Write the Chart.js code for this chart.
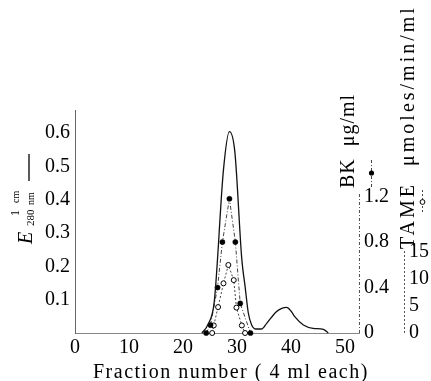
<!DOCTYPE html>
<html><head><meta charset="utf-8">
<script src="https://cdn.jsdelivr.net/npm/chart.js@4.4.0/dist/chart.umd.min.js"></script>
<style>html,body{margin:0;padding:0;background:#fff}#wrap{width:431px;height:381px;position:relative}</style>
</head><body><div id="wrap"><canvas id="c" width="431" height="381"></canvas></div>
<script>
// ---- data ----
const xTickLabels = [0, 10, 20, 30, 40, 50];
const eTicks = [0.1, 0.2, 0.3, 0.4, 0.5, 0.6];
const bkTicks = [0, 0.4, 0.8, 1.2];
const tameTicks = [0, 5, 10, 15];

const absFraction = [23.5, 24.6, 25.8, 27.5, 28.6, 29.6, 30.9, 31.5, 32.1, 32.7, 33.5, 34.5, 35.5, 37.3, 38.3, 39.2, 40.0, 40.7, 42.3, 44.1, 46.0, 46.9];
const absValues   = [0, 0.025, 0.095, 0.49, 0.604, 0.544, 0.22, 0.14, 0.06, 0.025, 0.012, 0.012, 0.029, 0.064, 0.074, 0.077, 0.066, 0.049, 0.024, 0.014, 0.011, 0];

const bkFraction = [24.3, 25.1, 26.4, 27.3, 28.6, 29.7, 30.6, 32.5];
const bkValues   = [0, 0.07, 0.40, 0.80, 1.18, 0.80, 0.26, 0];

const tameFraction = [25.4, 25.7, 26.5, 27.5, 28.4, 29.4, 29.9, 30.9, 31.5];
const tameValues   = [0, 1.4, 4.8, 9.2, 12.6, 9.8, 4.7, 1.4, 0];

const pts = (xs, ys) => xs.map((x, i) => ({x: x, y: ys[i]}));
const SERIF = "'Liberation Serif', 'DejaVu Serif', serif";
const tickFont = {family: SERIF, size: 20};

function vtext(ctx, text, x, y, font, spacing) {
  ctx.save();
  ctx.translate(x, y);
  ctx.rotate(-Math.PI / 2);
  ctx.font = font;
  ctx.letterSpacing = spacing || '0px';
  ctx.textAlign = 'left';
  ctx.textBaseline = 'alphabetic';
  ctx.fillStyle = '#000';
  ctx.fillText(text, 0, 0);
  const w = ctx.measureText(text).width;
  ctx.restore();
  return w;
}

const decor = {
  id: 'decor',
  afterDraw(chart) {
    const ctx = chart.ctx;
    const bk = chart.scales.yBK, tm = chart.scales.yT;
    ctx.save();
    // partial right axis lines
    ctx.strokeStyle = '#555'; ctx.lineWidth = 1;
    ctx.setLineDash([3, 2, 1, 2]);
    ctx.beginPath();
    ctx.moveTo(bk.left + 0.5, bk.getPixelForValue(0));
    ctx.lineTo(bk.left + 0.5, bk.getPixelForValue(1.23));
    ctx.stroke();
    ctx.setLineDash([2, 2]);
    ctx.beginPath();
    ctx.moveTo(tm.left + 0.5, tm.getPixelForValue(0));
    ctx.lineTo(tm.left + 0.5, tm.getPixelForValue(15.2));
    ctx.stroke();
    ctx.setLineDash([]);

    // left title: E 1cm / 280nm  —
    vtext(ctx, 'E', 32, 244, 'italic 20px ' + SERIF);
    vtext(ctx, '1', 19, 216, '12px ' + SERIF);
    vtext(ctx, 'cm', 19, 203, '10px ' + SERIF);
    vtext(ctx, '280', 34, 226, '11px ' + SERIF);
    vtext(ctx, 'nm', 34, 205, '10px ' + SERIF);
    ctx.strokeStyle = '#000'; ctx.lineWidth = 1.3;
    ctx.beginPath(); ctx.moveTo(29, 181); ctx.lineTo(29, 154); ctx.stroke();

    // BK title + key
    vtext(ctx, 'BK  \u03bcg/ml', 354, 188, '20px ' + SERIF, '1px');
    ctx.strokeStyle = '#444'; ctx.lineWidth = 1;
    ctx.setLineDash([3, 2, 1, 2]);
    ctx.beginPath(); ctx.moveTo(371.5, 160); ctx.lineTo(371.5, 187); ctx.stroke();
    ctx.setLineDash([]);
    ctx.fillStyle = '#000';
    ctx.beginPath(); ctx.arc(371.5, 173, 2.6, 0, Math.PI * 2); ctx.fill();

    // TAME title + key
    vtext(ctx, 'TAME  \u03bcmoles/min/ml', 414, 249, '20px ' + SERIF, '3px');
    ctx.strokeStyle = '#444'; ctx.setLineDash([2, 2]);
    ctx.beginPath(); ctx.moveTo(422.5, 190); ctx.lineTo(422.5, 214); ctx.stroke();
    ctx.setLineDash([]);
    ctx.fillStyle = '#fff'; ctx.strokeStyle = '#000';
    ctx.beginPath(); ctx.arc(422.5, 202, 2.4, 0, Math.PI * 2); ctx.fill(); ctx.stroke();

    // x title
    ctx.font = '20px ' + SERIF;
    ctx.letterSpacing = '1.5px';
    ctx.fillStyle = '#000';
    ctx.textAlign = 'left'; ctx.textBaseline = 'alphabetic';
    ctx.fillText('Fraction number ( 4 ml each)', 93, 378);
    ctx.restore();
  }
};

new Chart(document.getElementById('c'), {
  type: 'scatter',
  data: {
    datasets: [
      {label: 'E280', data: pts(absFraction, absValues), yAxisID: 'y', showLine: true,
       borderColor: '#111', borderWidth: 1.3, pointRadius: 0, cubicInterpolationMode: 'monotone', clip: false},
      {label: 'BK', data: pts(bkFraction, bkValues), yAxisID: 'yBK', showLine: true,
       borderColor: '#444', borderWidth: 1, borderDash: [4, 2, 1, 2],
       pointRadius: 2.6, pointBackgroundColor: '#000', pointBorderColor: '#000', pointBorderWidth: 0.5, clip: false},
      {label: 'TAME', data: pts(tameFraction, tameValues), yAxisID: 'yT', showLine: true,
       borderColor: '#444', borderWidth: 1, borderDash: [2, 2],
       pointRadius: 2.5, pointBackgroundColor: '#fff', pointBorderColor: '#000', pointBorderWidth: 1, clip: false}
    ]
  },
  options: {
    responsive: false, animation: false,
    layout: {padding: {top: 110, left: 0, right: 0, bottom: 0}},
    plugins: {legend: {display: false}, tooltip: {enabled: false}},
    scales: {
      x: {
        type: 'linear', min: 0, max: 52.6,
        afterBuildTicks: a => { a.ticks = xTickLabels.map(v => ({value: v})); },
        afterFit: a => { a.height = 48; },
        grid: {display: false, drawTicks: false},
        border: {display: true, color: '#888', dash: [2, 2], width: 1},
        ticks: {font: tickFont, color: '#000', padding: 3, maxRotation: 0, autoSkip: false}
      },
      y: {
        position: 'left', min: 0, max: 0.669,
        afterBuildTicks: a => { a.ticks = eTicks.map(v => ({value: v})); },
        afterFit: a => { a.width = 75; },
        grid: {display: false, drawTicks: false},
        border: {display: true, color: '#666', dash: [2, 2], width: 1},
        ticks: {font: tickFont, color: '#000', padding: 5, callback: v => v.toFixed(1)}
      },
      yBK: {
        position: 'right', weight: 1, min: 0, max: 1.9604,
        afterBuildTicks: a => { a.ticks = bkTicks.map(v => ({value: v})); },
        afterFit: a => { a.width = 45; },
        grid: {display: false, drawTicks: false},
        border: {display: false},
        ticks: {font: tickFont, color: '#000', padding: 5, callback: v => v === 0 ? '0' : v.toFixed(1)}
      },
      yT: {
        position: 'right', weight: 2, min: 0, max: 41.3,
        afterBuildTicks: a => { a.ticks = tameTicks.map(v => ({value: v})); },
        afterFit: a => { a.width = 27; },
        grid: {display: false, drawTicks: false},
        border: {display: false},
        ticks: {font: tickFont, color: '#000', padding: 5, callback: v => String(v)}
      }
    }
  },
  plugins: [decor]
});
</script>
</body></html>
